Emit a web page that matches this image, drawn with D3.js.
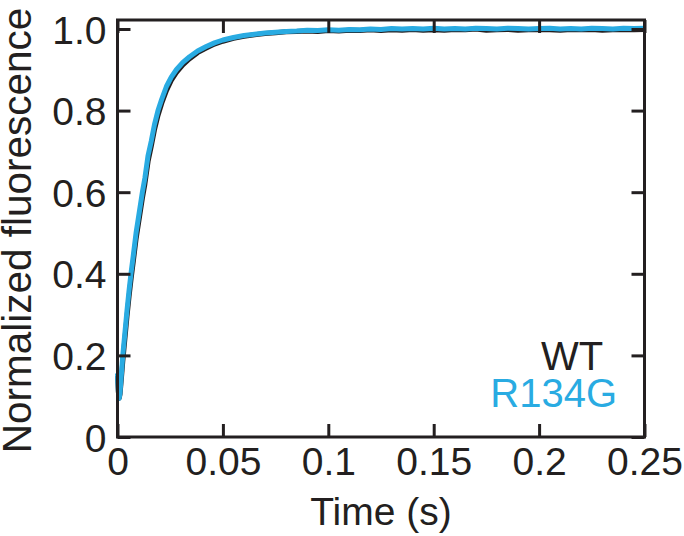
<!DOCTYPE html>
<html><head><meta charset="utf-8">
<script src="https://cdn.jsdelivr.net/npm/d3@7"></script>
<style>body{margin:0;background:#fff}svg{display:block}text{font-family:"Liberation Sans",Arial,sans-serif}</style>
</head><body><svg id="c" width="684" height="536"></svg>
<script>
const times = [0,0.0004,0.0008,0.0012,0.0018,0.0025,0.0035,0.0045,0.0055,0.0065,0.0075,0.0088,0.010,0.0118,0.013,0.0145,0.016,0.0175,0.0192,0.021,0.0232,0.0255,0.0279,0.031,0.0342,0.038,0.0421,0.046,0.050,0.055,0.060,0.065,0.070,0.075,0.080,
0.085,0.09,0.095,0.1,0.105,0.11,0.115,0.12,0.125,0.13,0.135,0.14,0.145,0.15,0.155,0.16,0.165,0.17,0.175,0.18,0.185,0.19,0.195,0.2,0.205,0.21,0.215,0.22,0.225,0.23,0.235,0.24,0.245,0.25];
const wtValues = [0.15,0.11,0.095,0.105,0.14,0.185,0.24,0.295,0.345,0.39,0.43,0.485,0.525,0.585,0.62,0.675,0.712,0.752,0.788,0.818,0.849,0.874,0.893,0.912,0.927,0.942,0.953,0.963,0.970,0.977,0.982,0.986,0.989,0.991,0.993,
0.994,0.995,0.994,0.996,0.995,0.997,0.996,0.998,0.996,0.998,0.997,0.999,0.997,0.998,0.997,0.999,0.998,1.0,0.997,0.998,0.999,0.997,0.998,0.999,0.998,0.997,0.999,0.998,0.999,0.997,0.998,0.999,0.998,0.999];
const r134gValues = [0.156,0.112,0.095,0.108,0.15,0.20,0.255,0.31,0.36,0.405,0.445,0.50,0.54,0.60,0.635,0.69,0.725,0.765,0.80,0.828,0.859,0.882,0.90,0.918,0.932,0.946,0.957,0.966,0.973,0.979,0.984,0.987,0.990,0.992,0.994,
0.995,0.997,0.996,0.998,0.997,0.999,0.998,1.0,0.999,1.001,1.0,1.001,1.0,1.002,1.0,1.001,1.0,1.002,1.001,1.0,1.002,1.001,1.0,1.001,1.002,1.0,1.001,1.0,1.002,1.001,1.0,1.002,1.001,1.002];
const xTicks = [0,0.05,0.1,0.15,0.2,0.25];
const xTickLabels = ["0","0.05","0.1","0.15","0.2","0.25"];
const yTicks = [0,0.2,0.4,0.6,0.8,1.0];
const yTickLabels = ["0","0.2","0.4","0.6","0.8","1.0"];
const seriesNames = ["WT","R134G"];
const seriesColors = ["#231f20","#29abe2"];

const svg = d3.select("#c");
const L=117.5, R=644.5, T=20, B=437;
const x = d3.scaleLinear().domain([0,0.25]).range([L,R]);
const y = d3.scaleLinear().domain([0,1.022]).range([B,T]);
const ink = "#231f20";
const F = 39;

const line = d3.line().x(d=>x(d[0])).y(d=>y(d[1]));
const wt = times.map((t,i)=>[t,wtValues[i]]);
const rg = times.map((t,i)=>[t,r134gValues[i]]);
svg.append("path").attr("d",line(wt)).attr("fill","none").attr("stroke",seriesColors[0]).attr("stroke-width",5).attr("stroke-linejoin","round");
svg.append("path").attr("d",line(rg)).attr("fill","none").attr("stroke",seriesColors[1]).attr("stroke-width",5).attr("stroke-linejoin","round");

// axes with inward ticks on all sides
const tl = 13;
const gB = svg.append("g").attr("transform",`translate(0,${B})`).call(d3.axisBottom(x).tickValues(xTicks).tickSize(-tl).tickFormat((d,i)=>xTickLabels[i]).tickPadding(25));
const gT = svg.append("g").attr("transform",`translate(0,${T})`).call(d3.axisTop(x).tickValues(xTicks).tickSize(-tl).tickFormat(""));
const gL = svg.append("g").attr("transform",`translate(${L},0)`).call(d3.axisLeft(y).tickValues(yTicks).tickSize(-tl).tickFormat((d,i)=>yTickLabels[i]).tickPadding(11));
const gR = svg.append("g").attr("transform",`translate(${R},0)`).call(d3.axisRight(y).tickValues(yTicks).tickSize(-tl).tickFormat(""));
[gB,gT,gL,gR].forEach(g=>{
  g.select(".domain").remove();
  g.selectAll(".tick line").attr("stroke",ink).attr("stroke-width",3);
  g.selectAll("text").attr("fill",ink).style("font-size",F+"px").style("font-family",'"Liberation Sans",Arial,sans-serif');
});
gB.selectAll(".tick text").attr("dy",null).attr("y",38);
gL.selectAll(".tick text").attr("dy","0.36em");
// frame
svg.append("rect").attr("x",L).attr("y",T).attr("width",R-L).attr("height",B-T).attr("fill","none").attr("stroke",ink).attr("stroke-width",3);

// axis titles
svg.append("text").attr("x",(L+R)/2).attr("y",525).attr("text-anchor","middle").attr("fill",ink).style("font-size",F+"px").text("Time (s)");
svg.append("text").attr("transform",`translate(31,${(T+B)/2+2}) rotate(-90)`).attr("text-anchor","middle").attr("fill",ink).style("font-size","40.5px").text("Normalized fluorescence");

// legend
svg.append("text").attr("x",541).attr("y",370).attr("fill",seriesColors[0]).style("font-size","40px").text(seriesNames[0]);
svg.append("text").attr("x",617).attr("y",407).attr("text-anchor","end").attr("fill",seriesColors[1]).style("font-size","40px").text(seriesNames[1]);
</script></body></html>
